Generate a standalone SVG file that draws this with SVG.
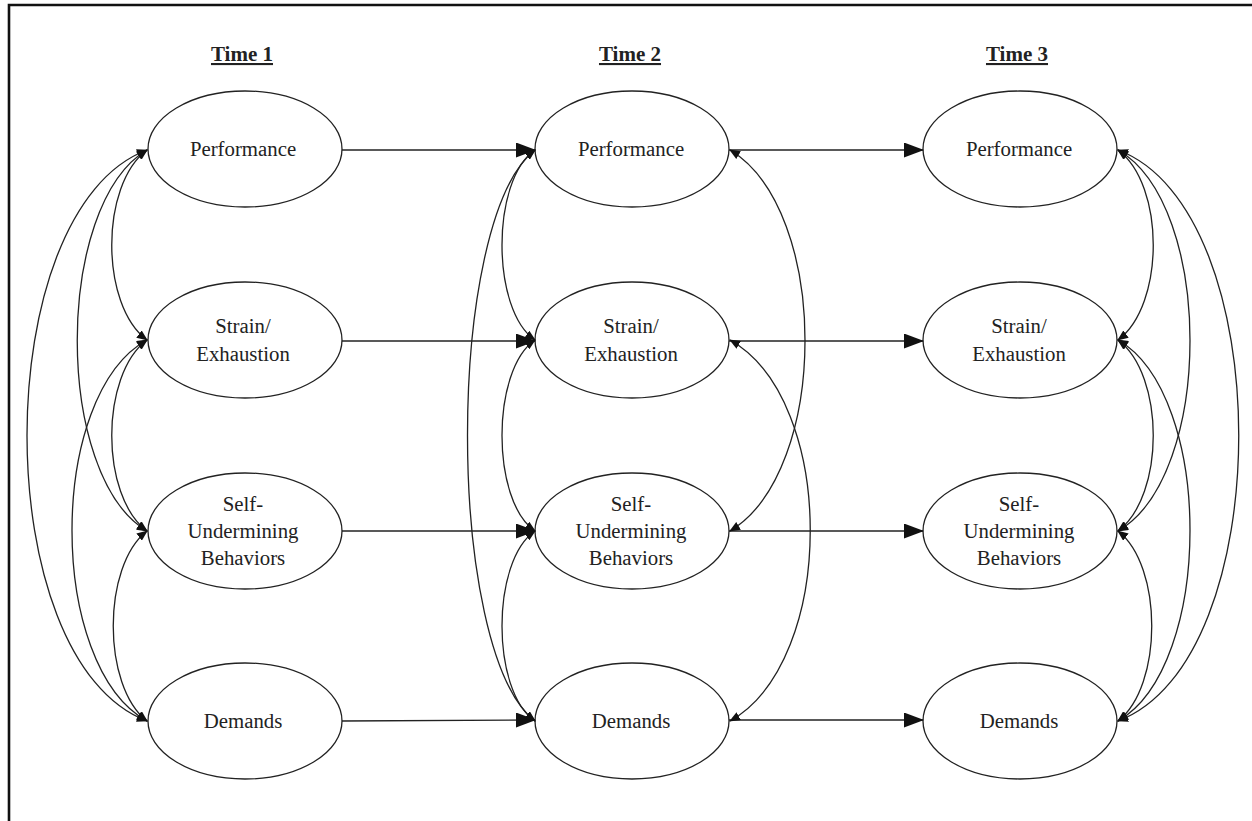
<svg xmlns="http://www.w3.org/2000/svg" width="1252" height="821" viewBox="0 0 1252 821">
  <style>
    .frame { stroke: #111; stroke-width: 2.6; fill: none; }
    .node ellipse { fill: #fff; stroke: #222; stroke-width: 1.3; }
    .node text, .hdr { font-family: "Liberation Serif", "Times New Roman", serif; fill: #222; text-anchor: middle; }
    .node text { font-size: 20.8px; }
    .hdr { font-size: 21px; font-weight: bold; text-decoration: underline; }
    .path { fill: none; stroke: #222; stroke-width: 1.3; }
    .lag { marker-end: url(#bigArrow); }
    .cov { marker-start: url(#smallArrow); marker-end: url(#smallArrow); }
  </style>
  <defs>
    <marker id="bigArrow" markerUnits="userSpaceOnUse" markerWidth="20" markerHeight="15" refX="19" refY="7.5" orient="auto">
      <path d="M0,0 L20,7.5 L0,15 z" fill="#111"/>
    </marker>
    <marker id="smallArrow" markerUnits="userSpaceOnUse" markerWidth="11" markerHeight="9" refX="10" refY="4.5" orient="auto-start-reverse">
      <path d="M0,0 L11,4.5 L0,9 z" fill="#111"/>
    </marker>
  </defs>

  <rect width="1252" height="821" fill="#fff"/>

  <!-- frame: top and left rules -->
  <path class="frame" d="M9,821 V5 H1252"/>

  <!-- column headings -->
  <text class="hdr" x="242" y="61">Time 1</text>
  <text class="hdr" x="630" y="61">Time 2</text>
  <text class="hdr" x="1017" y="61">Time 3</text>

  <!-- Time 1 -->
  <g id="t1-performance" class="node">
    <ellipse cx="245" cy="149" rx="97" ry="58"/>
    <text x="243" y="156">Performance</text>
  </g>
  <g id="t1-strain" class="node">
    <ellipse cx="245" cy="340" rx="97" ry="58"/>
    <text x="243" y="333">Strain/</text>
    <text x="243" y="361">Exhaustion</text>
  </g>
  <g id="t1-selfundermining" class="node">
    <ellipse cx="245" cy="531" rx="97" ry="58"/>
    <text x="243" y="511">Self-</text>
    <text x="243" y="538">Undermining</text>
    <text x="243" y="565">Behaviors</text>
  </g>
  <g id="t1-demands" class="node">
    <ellipse cx="245" cy="721" rx="97" ry="58"/>
    <text x="243" y="728">Demands</text>
  </g>

  <!-- Time 2 -->
  <g id="t2-performance" class="node">
    <ellipse cx="632" cy="149" rx="97" ry="58"/>
    <text x="631" y="156">Performance</text>
  </g>
  <g id="t2-strain" class="node">
    <ellipse cx="632" cy="340" rx="97" ry="58"/>
    <text x="631" y="333">Strain/</text>
    <text x="631" y="361">Exhaustion</text>
  </g>
  <g id="t2-selfundermining" class="node">
    <ellipse cx="632" cy="531" rx="97" ry="58"/>
    <text x="631" y="511">Self-</text>
    <text x="631" y="538">Undermining</text>
    <text x="631" y="565">Behaviors</text>
  </g>
  <g id="t2-demands" class="node">
    <ellipse cx="632" cy="721" rx="97" ry="58"/>
    <text x="631" y="728">Demands</text>
  </g>

  <!-- Time 3 -->
  <g id="t3-performance" class="node">
    <ellipse cx="1020" cy="149" rx="97" ry="58"/>
    <text x="1019" y="156">Performance</text>
  </g>
  <g id="t3-strain" class="node">
    <ellipse cx="1020" cy="340" rx="97" ry="58"/>
    <text x="1019" y="333">Strain/</text>
    <text x="1019" y="361">Exhaustion</text>
  </g>
  <g id="t3-selfundermining" class="node">
    <ellipse cx="1020" cy="531" rx="97" ry="58"/>
    <text x="1019" y="511">Self-</text>
    <text x="1019" y="538">Undermining</text>
    <text x="1019" y="565">Behaviors</text>
  </g>
  <g id="t3-demands" class="node">
    <ellipse cx="1020" cy="721" rx="97" ry="58"/>
    <text x="1019" y="728">Demands</text>
  </g>

  <g id="connectors">
    <!-- lagged paths Time 1 -> Time 2 -->
    <path class="path lag" d="M342,150 H535"/>
    <path class="path lag" d="M342,341 H535"/>
    <path class="path lag" d="M342,531 H535"/>
    <path class="path lag" d="M342,721 L535,720"/>
    <!-- lagged paths Time 2 -> Time 3 -->
    <path class="path lag" d="M729,150 H923"/>
    <path class="path lag" d="M729,341 H923"/>
    <path class="path lag" d="M729,531 H923"/>
    <path class="path lag" d="M729,720 H923"/>

    <!-- Time 1 covariances (left side) -->
    <path class="path cov" d="M147,150 C100,185 100,305 147,340"/>
    <path class="path cov" d="M147,340 C100,375 100,496 147,531"/>
    <path class="path cov" d="M147,531 C102,566 102,686 147,721"/>
    <path class="path cov" d="M147,150 C54,205 54,476 147,531"/>
    <path class="path cov" d="M147,340 C47,395 47,666 147,721"/>
    <path class="path cov" d="M147,150 C-13,210 -13,661 147,721"/>

    <!-- Time 2 covariances (left side) -->
    <path class="path cov" d="M535,150 C491,180 491,310 535,340"/>
    <path class="path cov" d="M535,340 C491,370 491,501 535,531"/>
    <path class="path cov" d="M535,531 C491,561 491,691 535,721"/>
    <path class="path cov" d="M535,150 C445,220 445,651 535,721"/>
    <!-- Time 2 covariances (right side) -->
    <path class="path cov" d="M730,150 C830,210 830,471 730,531"/>
    <path class="path cov" d="M730,340 C837,400 837,661 730,721"/>

    <!-- Time 3 covariances (right side) -->
    <path class="path cov" d="M1118,150 C1165,185 1165,305 1118,340"/>
    <path class="path cov" d="M1118,340 C1165,375 1165,496 1118,531"/>
    <path class="path cov" d="M1118,531 C1163,566 1163,686 1118,721"/>
    <path class="path cov" d="M1118,150 C1214,205 1214,476 1118,531"/>
    <path class="path cov" d="M1118,340 C1214,395 1214,666 1118,721"/>
    <path class="path cov" d="M1118,150 C1279,210 1279,661 1118,721"/>
  </g>
</svg>
